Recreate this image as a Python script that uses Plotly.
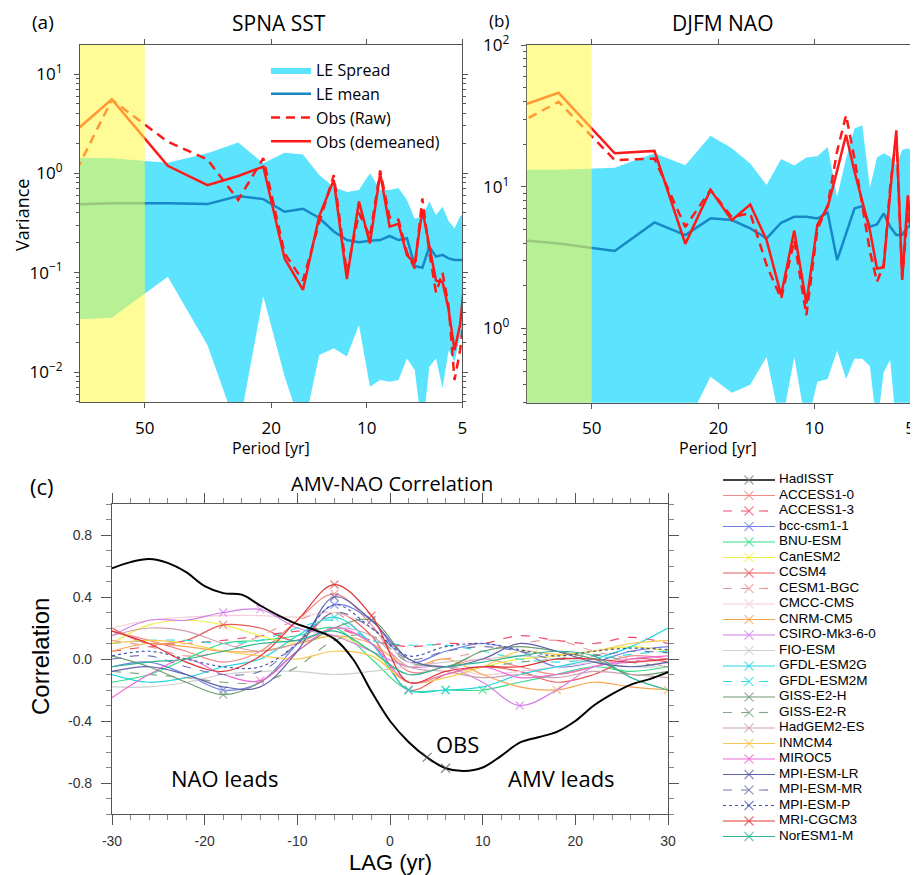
import numpy as np
import plotly.graph_objects as go

# ---------------- data: spectra (panels a, b) ----------------
PERIOD = [127.0, 63.5, 42.33, 31.75, 25.4, 21.17, 18.14, 15.88, 14.11, 12.7, 11.55, 10.58, 9.77,
          9.07, 8.47, 7.94, 7.47, 7.06, 6.68, 6.35, 6.05, 5.77, 5.52, 5.29, 5.08, 4.88]

SST_LE_HIGH = [1.46, 1.42, 1.28, 1.59, 2.04, 1.26, 1.61, 1.55, 0.96, 0.73, 0.65, 0.68, 1.0,
               0.68, 0.68, 0.71, 0.54, 0.35, 0.37, 0.52, 0.38, 0.46, 0.33, 0.28, 0.37, 0.40]
SST_LE_LOW = [0.0316, 0.0352, 0.091, 0.0187, 0.0025, 0.058, 0.009, 0.0025, 0.0148, 0.0173, 0.0143,
              0.0297, 0.0071, 0.0083, 0.008, 0.0083, 0.0137, 0.0105, 0.0025, 0.0113, 0.0137, 0.0069,
              0.0166, 0.0127, 0.0229, 0.02]
SST_LE_MEAN = [0.47, 0.50, 0.50, 0.49, 0.59, 0.55, 0.41, 0.44, 0.355, 0.26, 0.213, 0.202, 0.21,
               0.213, 0.234, 0.213, 0.222, 0.117, 0.112, 0.183, 0.145, 0.151, 0.139, 0.134, 0.134, 0.135]
SST_OBS_RAW = [0.066, 5.5, 2.08, 1.38, 0.54, 1.42, 0.157, 0.083, 0.32, 0.96, 0.10, 0.40, 0.23,
               1.07, 0.36, 0.34, 0.16, 0.11, 0.56, 0.16, 0.063, 0.10, 0.046, 0.0083, 0.0166, 0.05]
SST_OBS_DEMEAN = [0.81, 5.56, 1.19, 0.76, 0.94, 1.17, 0.139, 0.067, 0.37, 0.86, 0.086, 0.52, 0.197,
                  1.0, 0.29, 0.31, 0.15, 0.124, 0.43, 0.18, 0.083, 0.081, 0.042, 0.0166, 0.030, 0.11]

NAO_LE_HIGH = [13.2, 13.2, 13.6, 17.2, 14.2, 22.9, 18.7, 14.6, 10.3, 15.7, 14.1, 16.1, 16.4,
               19.1, 8.5, 15.8, 25.8, 27.2, 9.8, 16.1, 17.2, 16.3, 14.2, 18.2, 18.6, 17.8]
NAO_LE_LOW = [0.2, 0.2, 0.2, 0.2, 0.2, 0.456, 0.352, 0.40, 0.63, 0.2, 0.63, 0.2, 0.42,
              0.44, 0.70, 0.44, 0.61, 0.61, 0.54, 0.2, 0.49, 0.60, 0.2, 0.2, 0.2, 0.2]
NAO_LE_MEAN = [4.56, 3.98, 3.52, 5.6, 4.56, 5.98, 5.82, 5.08, 4.32, 5.57, 6.14, 6.14, 5.97,
               6.55, 3.03, 4.68, 7.03, 7.31, 5.22, 5.42, 6.49, 5.22, 4.56, 4.57, 5.25, 5.25]
NAO_OBS_RAW = [17.1, 39.8, 15.4, 15.8, 5.2, 9.5, 6.1, 6.5, 2.8, 1.62, 4.2, 1.24, 5.0,
               7.4, 17.8, 32.0, 15.8, 7.6, 3.5, 2.13, 2.8, 10.0, 23.0, 2.3, 6.6, 4.0]
NAO_OBS_DEMEAN = [26.7, 46.0, 17.2, 17.9, 3.95, 9.5, 5.8, 7.5, 4.2, 1.72, 4.9, 1.5, 5.4,
                  7.2, 13.0, 23.2, 12.8, 7.9, 4.9, 2.65, 2.7, 9.2, 25.0, 2.2, 8.7, 3.5]

PERIOD_TICKS = [50, 20, 10, 5]
PERIOD_RANGE = [80, 5]          # visible period range (yr), long periods on the left
SHADE_PERIODS = [80, 50]        # highlighted long-period band

# ---------------- data: lag correlation (panel c) ----------------
LAG_OBS = list(range(-30, 31, 2))
HADISST = [0.585, 0.625, 0.645, 0.62, 0.56, 0.47, 0.425, 0.415, 0.345, 0.28, 0.225, 0.185, 0.13,
           0.0, -0.21, -0.40, -0.535, -0.635, -0.705, -0.723, -0.70, -0.625, -0.54, -0.505, -0.47,
           -0.40, -0.30, -0.225, -0.165, -0.13, -0.085]
HADISST_SIG = [4, 6]

LAG_MOD = [-30, -26, -22, -18, -14, -10, -6, -2, 2, 6, 10, 14, 18, 22, 26, 30]
MODELS = ["ACCESS1-0", "ACCESS1-3", "bcc-csm1-1", "BNU-ESM", "CanESM2", "CCSM4", "CESM1-BGC",
          "CMCC-CMS", "CNRM-CM5", "CSIRO-Mk3-6-0", "FIO-ESM", "GFDL-ESM2G", "GFDL-ESM2M",
          "GISS-E2-H", "GISS-E2-R", "HadGEM2-ES", "INMCM4", "MIROC5", "MPI-ESM-LR", "MPI-ESM-MR",
          "MPI-ESM-P", "MRI-CGCM3", "NorESM1-M"]
MODEL_CORR = [
    [0.18, 0.12, 0.05, -0.02, 0.05, 0.25, 0.42, 0.22, -0.08, -0.05, 0.00, -0.05, -0.10, -0.05, 0.02, 0.00],
    [0.05, 0.08, 0.10, 0.12, 0.15, 0.18, 0.20, 0.12, 0.08, 0.10, 0.10, 0.15, 0.12, 0.10, 0.14, 0.10],
    [-0.05, -0.02, -0.10, -0.20, -0.15, 0.10, 0.35, 0.25, -0.02, 0.05, 0.10, 0.05, -0.05, -0.02, 0.05, 0.08],
    [-0.15, -0.10, 0.00, 0.10, 0.12, 0.15, 0.20, 0.00, -0.20, -0.20, -0.20, -0.15, -0.10, -0.05, -0.08, -0.05],
    [0.10, 0.22, 0.25, 0.22, 0.15, 0.10, 0.15, 0.05, -0.15, -0.10, -0.05, 0.00, 0.02, 0.05, 0.08, 0.05],
    [0.20, 0.10, 0.12, 0.22, 0.20, 0.12, 0.30, 0.15, -0.20, -0.10, -0.05, -0.08, -0.15, -0.10, 0.00, -0.02],
    [0.12, 0.08, 0.02, 0.05, 0.15, 0.25, 0.30, 0.10, -0.05, 0.00, 0.05, 0.10, 0.12, 0.05, 0.00, -0.05],
    [0.20, 0.25, 0.27, 0.28, 0.28, 0.27, 0.30, 0.20, -0.02, -0.05, -0.10, -0.08, -0.05, -0.02, 0.00, -0.03],
    [0.05, 0.10, 0.08, 0.05, 0.05, 0.10, 0.15, 0.10, -0.05, 0.00, -0.10, -0.18, -0.20, -0.15, -0.18, -0.20],
    [0.15, 0.25, 0.25, 0.30, 0.32, 0.20, 0.15, 0.05, -0.05, -0.05, -0.15, -0.30, -0.20, -0.05, -0.02, 0.00],
    [-0.18, -0.18, -0.15, -0.10, -0.08, -0.08, -0.10, -0.08, -0.05, -0.02, 0.00, 0.02, 0.00, -0.02, -0.05, -0.05],
    [-0.10, -0.15, -0.12, -0.05, 0.00, 0.15, 0.27, 0.10, -0.20, -0.20, -0.18, -0.10, -0.05, 0.00, 0.08, 0.20],
    [0.10, 0.12, 0.12, 0.10, 0.12, 0.20, 0.25, 0.12, 0.09, 0.09, 0.05, 0.00, -0.02, 0.00, 0.03, 0.05],
    [0.02, -0.05, -0.15, -0.23, -0.15, 0.05, 0.20, 0.25, 0.00, -0.05, 0.05, 0.08, 0.05, 0.00, -0.10, -0.08],
    [-0.08, -0.10, -0.12, -0.15, -0.15, -0.05, 0.12, 0.15, -0.02, -0.05, -0.05, -0.02, 0.00, 0.03, -0.02, -0.05],
    [0.15, 0.20, 0.18, 0.10, 0.05, 0.10, 0.20, 0.15, -0.05, -0.08, -0.12, -0.10, -0.12, -0.08, -0.10, -0.12],
    [0.10, 0.12, 0.10, 0.05, 0.02, 0.00, 0.05, 0.02, -0.15, -0.12, -0.05, 0.05, 0.03, 0.05, 0.10, 0.12],
    [-0.25, -0.10, 0.00, -0.10, -0.14, 0.05, 0.20, 0.10, -0.15, -0.10, -0.05, -0.12, -0.10, -0.05, 0.00, 0.02],
    [-0.08, -0.05, -0.10, -0.18, -0.18, 0.05, 0.40, 0.25, 0.00, -0.05, 0.00, 0.10, 0.05, -0.02, -0.05, -0.02],
    [0.00, 0.02, -0.05, -0.10, -0.08, 0.10, 0.30, 0.20, 0.00, 0.05, 0.08, 0.05, 0.00, 0.02, 0.05, 0.04],
    [0.02, 0.05, 0.00, -0.05, -0.05, 0.10, 0.35, 0.20, 0.02, 0.08, 0.10, 0.06, 0.02, 0.05, 0.07, 0.06],
    [0.18, 0.10, -0.02, -0.08, 0.02, 0.25, 0.48, 0.28, -0.15, -0.08, -0.05, -0.05, 0.00, 0.00, -0.02, 0.00],
    [-0.05, -0.02, 0.00, 0.05, 0.10, 0.12, 0.18, 0.05, -0.10, -0.05, -0.02, 0.02, 0.05, 0.02, -0.12, -0.20],
]
MODEL_SIG = [[-6], [], [-18, -6], [2, 6, 10], [], [-18, 2], [], [], [18, 30], [-18, -14, 14], [],
             [-6, 2, 6], [], [-18], [], [], [], [-14], [-6, -2], [], [], [-6, -2], []]
MODEL_COLORS = ["#f28a8a", "#ee4d6a", "#6f7fe3", "#33dd88", "#eeee44", "#e85a5a", "#e89a9a",
                "#f6cdd8", "#f7a650", "#d47ee8", "#cfcfcf", "#22d6e0", "#33dddd", "#6f9a70",
                "#86a686", "#cf9fb2", "#f6c850", "#ee66d6", "#5f62a8", "#7377b0", "#4455a8",
                "#e03434", "#2fb594"]
MODEL_DASH = ["solid", "dash", "solid", "solid", "solid", "solid", "dash", "solid", "solid", "solid",
              "solid", "solid", "dash", "solid", "dash", "solid", "solid", "solid", "solid", "dash",
              "dot", "solid", "solid"]

# ---------------- styling ----------------
PAGE_W, PAGE_H = 918, 875
OFF = 8                              # default page margin of the HTML body
W, H = PAGE_W - OFF, PAGE_H - OFF
CYAN = "#5ce3fd"
BLUE = "#1787c6"
RED = "#ff1a1a"
AXC = "#555555"
FONT_A = "Open Sans"
FONT_C = "Liberation Sans"


def px(x):
    return (x - OFF) / W


def py(y):
    return 1 - (y - OFF) / H


fig = go.Figure()


def spectrum(xa, ya, high, low, mean, raw, dem, show):
    fig.add_trace(go.Scatter(x=PERIOD + PERIOD[::-1], y=high + low[::-1], fill="toself",
                             fillcolor=CYAN, mode="lines", line=dict(width=0, color=CYAN),
                             name="LE Spread", showlegend=show, xaxis=xa, yaxis=ya, hoverinfo="skip"))
    fig.add_trace(go.Scatter(x=PERIOD, y=mean, mode="lines", line=dict(color=BLUE, width=2.5),
                             name="LE mean", showlegend=show, xaxis=xa, yaxis=ya))
    fig.add_trace(go.Scatter(x=PERIOD, y=raw, mode="lines",
                             line=dict(color=RED, width=2.5, dash="9px,6px"),
                             name="Obs (Raw)", showlegend=show, xaxis=xa, yaxis=ya))
    fig.add_trace(go.Scatter(x=PERIOD, y=dem, mode="lines", line=dict(color=RED, width=2.5),
                             name="Obs (demeaned)", showlegend=show, xaxis=xa, yaxis=ya))


spectrum("x", "y", SST_LE_HIGH, SST_LE_LOW, SST_LE_MEAN, SST_OBS_RAW, SST_OBS_DEMEAN, True)
spectrum("x2", "y2", NAO_LE_HIGH, NAO_LE_LOW, NAO_LE_MEAN, NAO_OBS_RAW, NAO_OBS_DEMEAN, False)

# panel c: models
for i, name in enumerate(MODELS):
    sizes = [8 if l in MODEL_SIG[i] else 0 for l in LAG_MOD]
    fig.add_trace(go.Scatter(
        x=LAG_MOD, y=MODEL_CORR[i], mode="lines+markers", name=name, showlegend=False,
        line=dict(color=MODEL_COLORS[i], width=1.2, dash=MODEL_DASH[i], shape="spline", smoothing=1.0),
        marker=dict(symbol="x-thin", size=sizes, color=MODEL_COLORS[i],
                    line=dict(width=1.2, color=MODEL_COLORS[i])),
        xaxis="x3", yaxis="y3"))
obs_sizes = [9 if l in HADISST_SIG else 0 for l in LAG_OBS]
fig.add_trace(go.Scatter(
    x=LAG_OBS, y=HADISST, mode="lines+markers", name="HadISST", showlegend=False,
    line=dict(color="black", width=2, shape="spline", smoothing=1.0),
    marker=dict(symbol="x-thin", size=obs_sizes, color="#555", line=dict(width=1.2, color="#555")),
    xaxis="x3", yaxis="y3"))

# custom legend for panel c (own axes)
LEG_NAMES = ["HadISST"] + MODELS
LEG_COLORS = ["black"] + MODEL_COLORS
LEG_DASH = ["solid"] + MODEL_DASH
for i, name in enumerate(LEG_NAMES):
    fig.add_trace(go.Scatter(
        x=[23, 49, 75], y=[i, i, i], mode="lines+markers", showlegend=False, hoverinfo="skip",
        line=dict(color=LEG_COLORS[i], width=1.5 if i == 0 else 1.2, dash=LEG_DASH[i]),
        marker=dict(symbol="x-thin", size=[0, 9, 0], color=LEG_COLORS[i],
                    line=dict(width=1.2, color=LEG_COLORS[i] if i else "#777")),
        xaxis="x4", yaxis="y4"))
fig.add_trace(go.Scatter(
    x=[79] * len(LEG_NAMES), y=list(range(len(LEG_NAMES))), mode="text", text=LEG_NAMES,
    textposition="middle right", textfont=dict(family=FONT_C, size=13.5, color="black"),
    showlegend=False, hoverinfo="skip", xaxis="x4", yaxis="y4"))


def sup(n):
    return "10<sup>%s</sup>" % (("\u2212%d" % -n) if n < 0 else "%d" % n)


def minor_vals(lo, hi):
    out = []
    for d in range(lo, hi + 1):
        for m in range(2, 10):
            out.append(m * 10.0 ** d)
    return out


LOG_RANGE = [np.log10(PERIOD_RANGE[0]), np.log10(PERIOD_RANGE[1])]
common_x_log = dict(type="log", range=LOG_RANGE, autorange=False, automargin=False,
                    tickmode="array", tickvals=PERIOD_TICKS, ticktext=[str(t) for t in PERIOD_TICKS],
                    ticks="outside", ticklen=5, tickcolor=AXC, showline=True, linecolor=AXC,
                    linewidth=1.2, mirror="ticks", showgrid=False, zeroline=False,
                    tickfont=dict(family=FONT_A, size=17, color="black"), ticklabelstandoff=5)
ya_vals = [0.01, 0.1, 1, 10]
yb_vals = [1, 10, 100]
common_y_log = dict(type="log", autorange=False, automargin=False, ticks="outside", ticklen=5,
                    tickcolor=AXC, showline=True, linecolor=AXC, linewidth=1.2, mirror="ticks",
                    showgrid=False, zeroline=False,
                    tickfont=dict(family=FONT_A, size=17, color="black"),
                    ticklabelstandoff=8, tickmode="array")

layout = dict(
    width=W, height=H, margin=dict(l=0, r=0, t=0, b=0, autoexpand=False),
    paper_bgcolor="white", plot_bgcolor="white",
    xaxis=dict(domain=[px(80), px(462.3)], anchor="y", **common_x_log),
    yaxis=dict(domain=[py(402), py(45)], anchor="x", range=[-2.302, 1.292],
               tickvals=ya_vals, ticktext=[sup(n) for n in [-2, -1, 0, 1]],
               minor=dict(tickmode="array", tickvals=minor_vals(-3, 1), ticks="outside",
                          ticklen=3, tickcolor=AXC),
               **common_y_log),
    xaxis2=dict(domain=[px(526.7), px(910)], anchor="y2", **common_x_log),
    yaxis2=dict(domain=[py(402.7), py(45)], anchor="x2", range=[-0.524, 2.0],
                tickvals=yb_vals, ticktext=[sup(n) for n in [0, 1, 2]],
                minor=dict(tickmode="array", tickvals=minor_vals(-1, 1), ticks="outside",
                           ticklen=3, tickcolor=AXC),
                **common_y_log),
    xaxis3=dict(domain=[px(112), px(668)], anchor="y3", range=[-30, 30], autorange=False,
                automargin=False, tickmode="array", tickvals=[-30, -20, -10, 0, 10, 20, 30],
                ticktext=["-30", "-20", "-10", "0", "10", "20", "30"],
                ticks="outside", ticklen=10, tickcolor=AXC, showline=True, linecolor=AXC,
                linewidth=1.2, mirror="ticks", showgrid=False, zeroline=False,
                minor=dict(dtick=2, tick0=0, ticks="outside", ticklen=5, tickcolor="#888"),
                tickfont=dict(family=FONT_C, size=14, color="#333"), ticklabelstandoff=4),
    yaxis3=dict(domain=[py(814), py(504)], anchor="x3", range=[-1, 1], autorange=False,
                automargin=False, tickmode="array", tickvals=[-0.8, -0.4, 0, 0.4, 0.8],
                ticktext=["-0.8", "-0.4", "0.0", "0.4", "0.8"],
                ticks="outside", ticklen=10, tickcolor=AXC, showline=True, linecolor=AXC,
                linewidth=1.2, mirror="ticks", showgrid=False, zeroline=False,
                minor=dict(dtick=0.1, tick0=0, ticks="outside", ticklen=5, tickcolor="#888"),
                tickfont=dict(family=FONT_C, size=14, color="#333"), ticklabelstandoff=6),
    xaxis4=dict(domain=[px(700), px(910)], anchor="y4", range=[0, 210], visible=False,
                fixedrange=True, automargin=False),
    yaxis4=dict(domain=[py(850), py(466)], anchor="x4", range=[23.87, -0.903], visible=False,
                fixedrange=True, automargin=False),
    showlegend=True,
    legend=dict(x=px(266), y=py(53), xanchor="left", yanchor="top", bgcolor="rgba(0,0,0,0)",
                font=dict(family=FONT_A, size=16, color="black"), itemwidth=40,
                tracegroupgap=0),
)
fig.update_layout(**layout)

# yellow overlays (periods longer than 50 yr), placed in axis-domain fractions
shade_frac = [(LOG_RANGE[0] - np.log10(p)) / (LOG_RANGE[0] - LOG_RANGE[1]) for p in SHADE_PERIODS]
for xr, yr in [("x", "y"), ("x2", "y2")]:
    fig.add_shape(type="rect", xref=xr + " domain", yref=yr + " domain",
                  x0=shade_frac[0], x1=shade_frac[1], y0=0, y1=1,
                  fillcolor="rgba(255,250,72,0.57)", line=dict(width=0), layer="above")

ann = [
    dict(text="(a)", x=px(43), y=py(22), font=dict(family=FONT_A, size=19)),
    dict(text="SPNA SST", x=px(279), y=py(23), font=dict(family=FONT_A, size=21)),
    dict(text="(b)", x=px(499), y=py(20.5), font=dict(family=FONT_A, size=17)),
    dict(text="DJFM NAO", x=px(722), y=py(23), font=dict(family=FONT_A, size=21)),
    dict(text="Period [yr]", x=px(271), y=py(448), font=dict(family=FONT_A, size=16)),
    dict(text="Period [yr]", x=px(718), y=py(448), font=dict(family=FONT_A, size=16)),
    dict(text="Variance", x=px(22), y=py(215), textangle=-90, font=dict(family=FONT_A, size=18)),
    dict(text="(c)", x=px(42), y=py(486), font=dict(family=FONT_A, size=22)),
    dict(text="AMV-NAO Correlation", x=px(392), y=py(483), font=dict(family=FONT_A, size=20)),
    dict(text="Correlation", x=px(40), y=py(657), textangle=-90, font=dict(family=FONT_C, size=24)),
    dict(text="LAG (yr)", x=px(390), y=py(862), font=dict(family=FONT_C, size=22)),
    dict(text="NAO leads", x=px(224), y=py(778), font=dict(family=FONT_A, size=22)),
    dict(text="AMV leads", x=px(561), y=py(778), font=dict(family=FONT_A, size=22)),
    dict(text="OBS", x=px(457), y=py(744), font=dict(family=FONT_A, size=22)),
]
for a in ann:
    a.update(xref="paper", yref="paper", showarrow=False, xanchor="center", yanchor="middle")
    a["font"]["color"] = "black"
fig.update_layout(annotations=ann)

fig.write_html("out.html")
